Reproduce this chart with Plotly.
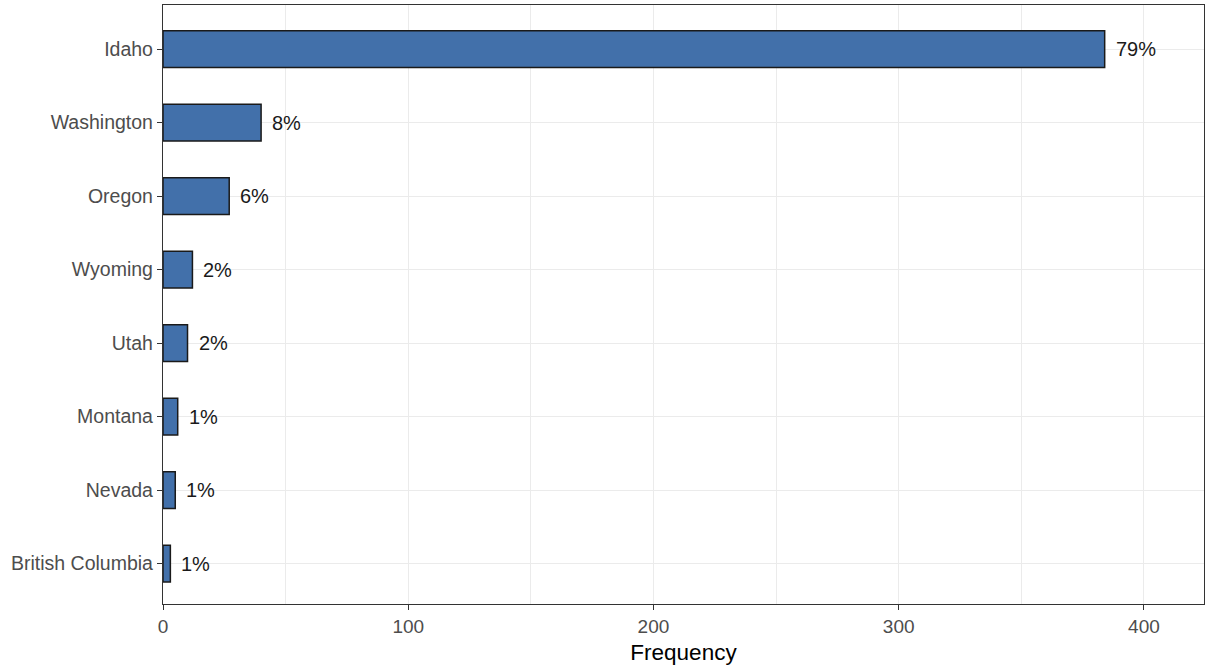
import plotly.graph_objects as go

states = ["Idaho", "Washington", "Oregon", "Wyoming", "Utah", "Montana", "Nevada", "British Columbia"]
counts = [384, 40, 27, 12, 10, 6, 5, 3]
pct_labels = ["79%", "8%", "6%", "2%", "2%", "1%", "1%", "1%"]
x_ticks = [0, 100, 200, 300, 400]

FONT = "Liberation Sans, Arial, sans-serif"

fig = go.Figure()
fig.add_trace(go.Bar(
    x=counts, y=states, orientation="h", width=0.5,
    marker=dict(color="#4270AA", line=dict(color="#1A1A1A", width=1.5)),
    hoverinfo="x+y", showlegend=False,
))

for s, c, p in zip(states, counts, pct_labels):
    fig.add_annotation(x=c, y=s, text=p, showarrow=False, xanchor="left",
                       xshift=9, font=dict(family=FONT, size=20, color="#1A1A1A"))

fig.update_layout(
    width=1206, height=672,
    margin=dict(l=163, r=2, t=5, b=68),
    paper_bgcolor="white", plot_bgcolor="white",
    font=dict(family=FONT),
)
fig.update_xaxes(
    range=[0, 424.5], tickvals=x_ticks, ticktext=[str(v) for v in x_ticks],
    showgrid=True, gridcolor="#EBEBEB", gridwidth=1,
    minor=dict(showgrid=True, dtick=50, tick0=0, gridcolor="#EBEBEB", gridwidth=1),
    showline=True, mirror=True, linecolor="#333333", linewidth=1.3,
    ticks="outside", ticklen=5, tickcolor="#333333", tickwidth=1.2,
    tickfont=dict(family=FONT, size=19, color="#4D4D4D"),
    title=dict(text="Frequency", font=dict(family=FONT, size=22.5, color="#000000"), standoff=8),
    zeroline=False,
)
fig.update_yaxes(
    type="category", categoryorder="array", categoryarray=states,
    range=[7.55, -0.6],
    showgrid=True, gridcolor="#EBEBEB", gridwidth=1,
    showline=True, mirror=True, linecolor="#333333", linewidth=1.3,
    ticks="outside", ticklen=5, tickcolor="#333333", tickwidth=1.2,
    tickfont=dict(family=FONT, size=19.5, color="#4D4D4D"),
)

fig.write_html("out.html", config={"displayModeBar": False},
               post_script="document.body.style.margin='0';document.body.style.overflow='hidden';")
